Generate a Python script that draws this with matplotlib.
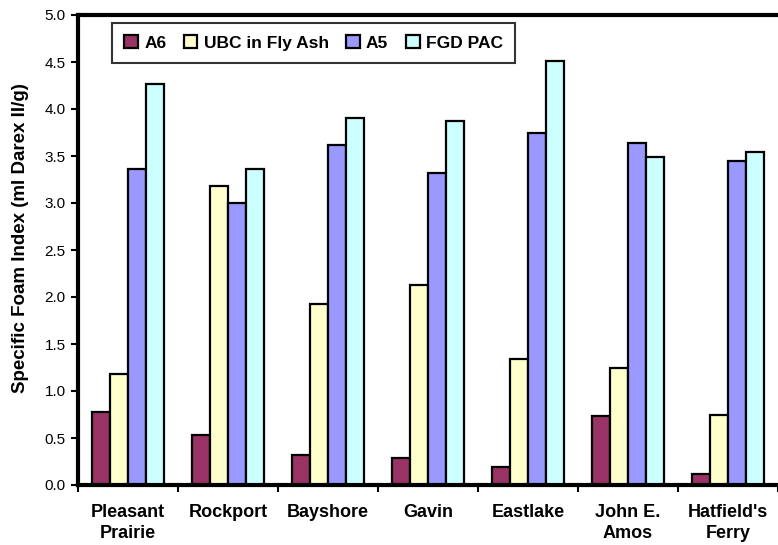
import matplotlib
matplotlib.use('Agg')
import matplotlib.pyplot as plt
import numpy as np

plants = ["Pleasant\nPrairie", "Rockport", "Bayshore", "Gavin", "Eastlake",
          "John E.\nAmos", "Hatfield's\nFerry"]
series_names = ["A6", "UBC in Fly Ash", "A5", "FGD PAC"]
a6 = [0.78, 0.53, 0.32, 0.29, 0.19, 0.73, 0.12]
ubc_fly_ash = [1.18, 3.18, 1.93, 2.13, 1.34, 1.24, 0.75]
a5 = [3.36, 3.00, 3.62, 3.32, 3.74, 3.64, 3.45]
fgd_pac = [4.27, 3.36, 3.90, 3.87, 4.51, 3.49, 3.54]
colors = ["#993366", "#FFFFCC", "#9999FF", "#CCFFFF"]

plt.rcParams['font.family'] = ['Liberation Sans', 'DejaVu Sans']

fig = plt.figure(figsize=(7.78, 5.45), dpi=100)
ax = fig.add_axes([78 / 778, 60 / 545, 700 / 778, 470 / 545])

x = np.arange(len(plants))
width = 0.18
all_series = [a6, ubc_fly_ash, a5, fgd_pac]
for i, (vals, name, col) in enumerate(zip(all_series, series_names, colors)):
    offset = (i - 1.5) * width
    ax.bar(x + offset, vals, width, label=name, color=col,
           edgecolor='black', linewidth=1.6)

ax.set_xlim(-0.5, len(plants) - 0.5)
ax.set_ylim(0, 5.0)
ax.set_yticks(np.arange(0, 5.01, 0.5))
ax.set_yticklabels([f"{v:.1f}" for v in np.arange(0, 5.01, 0.5)], fontsize=11)
ax.set_xticks(x)
ax.set_xticklabels(plants, fontsize=13, fontweight='bold', linespacing=1.25)
ax.tick_params(axis='x', length=0, pad=14)
ax.set_xticks(np.arange(-0.5, len(plants), 1), minor=True)
ax.tick_params(axis='x', which='minor', length=5, width=1.5, direction='out')
ax.tick_params(axis='y', length=5, width=1.5, direction='out', pad=4)

ax.set_ylabel("Specific Foam Index (ml Darex II/g)", fontsize=13.5,
              fontweight='bold')
ax.yaxis.set_label_coords(-0.07, 0.526)

for side in ['left', 'top', 'bottom']:
    ax.spines[side].set_linewidth(3)
ax.spines['right'].set_visible(False)

leg = ax.legend(loc='upper left', bbox_to_anchor=(34 / 700, 1 - 8 / 470),
                ncol=4, frameon=True, fancybox=False, edgecolor='black',
                prop={'weight': 'bold', 'size': 12.5}, handlelength=0.8,
                handleheight=0.8, handletextpad=0.35, columnspacing=1.0,
                borderpad=0.7, borderaxespad=0)
leg.get_frame().set_linewidth(1.5)

fig.savefig("out.png", dpi=100, facecolor='white')
